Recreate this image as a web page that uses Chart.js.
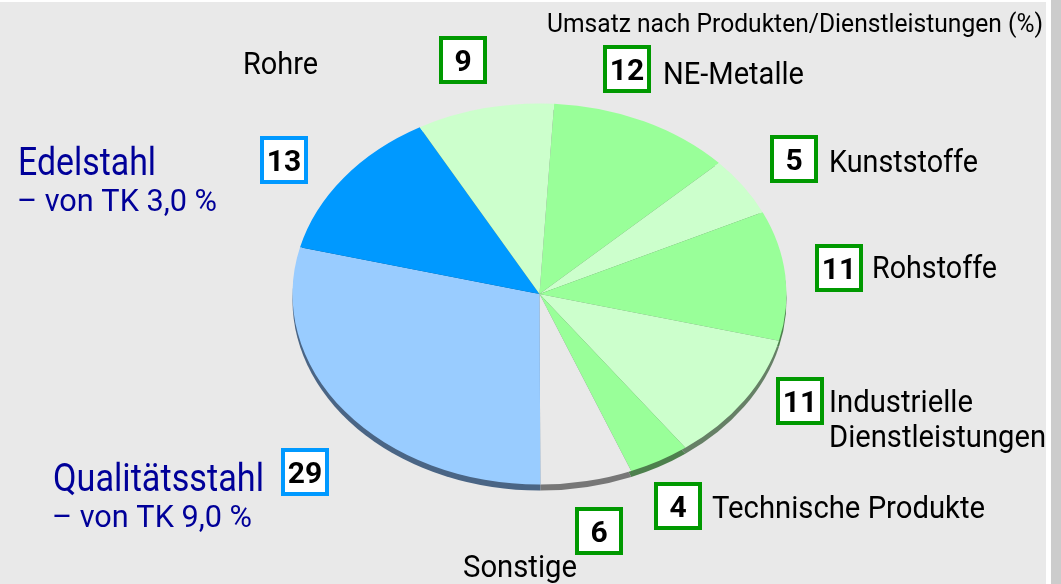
<!DOCTYPE html>
<html lang="de">
<head>
<meta charset="utf-8">
<title>Umsatz nach Produkten/Dienstleistungen</title>
<script src="https://cdn.jsdelivr.net/npm/chart.js@4/dist/chart.umd.min.js"></script>
<style>
    html, body { margin: 0; padding: 0; background: #fff; overflow: hidden; }
    canvas { display: block; }
</style>
</head>
<body>
<canvas id="umsatzChart" width="1061" height="584"></canvas>
<script>
// Data, clockwise from just right of 12 o'clock
const categories = ['NE-Metalle', 'Kunststoffe', 'Rohstoffe', 'Industrielle Dienstleistungen',
    'Technische Produkte', 'Sonstige', 'Qualitätsstahl', 'Edelstahl', 'Rohre'];
const values = [12, 5, 11, 11, 4, 6, 29, 13, 9];
const chartTitle = 'Umsatz nach Produkten/Dienstleistungen (%)';
const notes = { 'Edelstahl': '– von TK 3,0 %', 'Qualitätsstahl': '– von TK 9,0 %' };

const sliceColors = ['#99ff99', '#ccffcc', '#99ff99', '#ccffcc', '#99ff99', '#e9e9e9', '#99ccff', '#0099ff', '#ccffcc'];
const rimColors = ['#4d804d', '#668066', '#4d804d', '#668066', '#4d804d', '#777777', '#4a6585', '#004d80', '#668066'];

const GREEN = '#009900';
const BLUE = '#0099ff';
const NAVY = '#000099';
const FONT = 'Roboto, sans-serif';

// Squash of the round pie into the tilted ellipse
const SQUASH = 191 / 247.5;
const RIM_DEPTH = 6;

// Where the boxes and captions sit: box x/y, then caption lines as [text, x, baseline, width]
const labelLayout = [
    { box: [603, 45, GREEN], lines: [['NE-Metalle', 663, 84, 141]] },
    { box: [770, 135, GREEN], lines: [['Kunststoffe', 829, 172, 149]] },
    { box: [815, 244, GREEN], lines: [['Rohstoffe', 872, 278, 125]] },
    { box: [776, 377, GREEN], lines: [['Industrielle', 829, 412, 144], ['Dienstleistungen', 829, 447, 217]] },
    { box: [654, 482, GREEN], lines: [['Technische Produkte', 712, 518, 273]] },
    { box: [575, 507, GREEN], lines: [['Sonstige', 463, 577, 114]] },
    { box: [281, 448, BLUE], lines: [['Qualitätsstahl', 53, 491, 211]], main: true, note: [52, 527, 200] },
    { box: [260, 136, BLUE], lines: [['Edelstahl', 18, 175, 138]], main: true, note: [17, 211, 200] },
    { box: [439, 36, GREEN], lines: [['Rohre', 243, 74, 75]] }
];

function squashed(ctx, arc, draw) {
    ctx.save();
    ctx.translate(arc.x, arc.y);
    ctx.scale(1, SQUASH);
    ctx.translate(-arc.x, -arc.y);
    draw();
    ctx.restore();
}

const backdropPlugin = {
    id: 'backdrop',
    beforeDraw(chart) {
        const ctx = chart.ctx;
        ctx.save();
        ctx.fillStyle = '#ffffff';
        ctx.fillRect(0, 0, 1061, 584);
        ctx.fillStyle = '#e9e9e9';
        ctx.fillRect(0, 2, 1046, 582);
        ctx.fillStyle = '#cccccc';
        ctx.fillRect(1051, 0, 10, 584);
        ctx.restore();
    }
};

const tiltPlugin = {
    id: 'tilt',
    beforeDatasetDraw(chart) {
        const ctx = chart.ctx;
        const arcs = chart.getDatasetMeta(0).data;
        // dark rim under the pie, then squash whatever the library draws
        arcs.forEach((arc, i) => {
            ctx.save();
            ctx.translate(0, RIM_DEPTH);
            squashed(ctx, arc, () => {
                ctx.beginPath();
                ctx.moveTo(arc.x, arc.y);
                ctx.arc(arc.x, arc.y, arc.outerRadius, arc.startAngle, arc.endAngle);
                ctx.closePath();
                ctx.fillStyle = rimColors[i];
                ctx.fill();
            });
            ctx.restore();
        });
        const first = arcs[0];
        ctx.save();
        ctx.translate(first.x, first.y);
        ctx.scale(1, SQUASH);
        ctx.translate(-first.x, -first.y);
    },
    afterDatasetDraw(chart) {
        chart.ctx.restore();
    }
};

const labelPlugin = {
    id: 'labels',
    afterDraw(chart) {
        const ctx = chart.ctx;
        ctx.save();
        ctx.textBaseline = 'alphabetic';

        ctx.textAlign = 'left';
        ctx.fillStyle = '#000000';
        ctx.font = '25px ' + FONT;
        ctx.fillText(chartTitle, 547, 32, 496);

        labelLayout.forEach((item, i) => {
            const [bx, by, color] = item.box;
            ctx.fillStyle = '#ffffff';
            ctx.fillRect(bx, by, 48, 48);
            ctx.strokeStyle = color;
            ctx.lineWidth = 4;
            ctx.strokeRect(bx + 2, by + 2, 44, 44);

            ctx.textAlign = 'center';
            ctx.fillStyle = '#000000';
            ctx.font = 'bold 30px ' + FONT;
            ctx.fillText(String(values[i]), bx + 24, by + 35);

            ctx.textAlign = 'left';
            ctx.fillStyle = item.main ? NAVY : '#000000';
            ctx.font = (item.main ? '38px ' : '32px ') + FONT;
            item.lines.forEach(([text, x, y, w]) => ctx.fillText(text, x, y, w));

            if (item.note) {
                ctx.font = '32px ' + FONT;
                ctx.fillText(notes[categories[i]], item.note[0], item.note[1], item.note[2]);
            }
        });
        ctx.restore();
    }
};

new Chart(document.getElementById('umsatzChart').getContext('2d'), {
    type: 'pie',
    data: {
        labels: categories,
        datasets: [{
            data: values,
            backgroundColor: sliceColors,
            borderWidth: 0
        }]
    },
    options: {
        responsive: false,
        animation: false,
        rotation: 3.4,
        layout: { padding: { left: 18, top: 47, bottom: 43, right: 0 } },
        plugins: {
            legend: { display: false },
            tooltip: { enabled: false }
        }
    },
    plugins: [backdropPlugin, tiltPlugin, labelPlugin]
});
</script>
</body>
</html>
